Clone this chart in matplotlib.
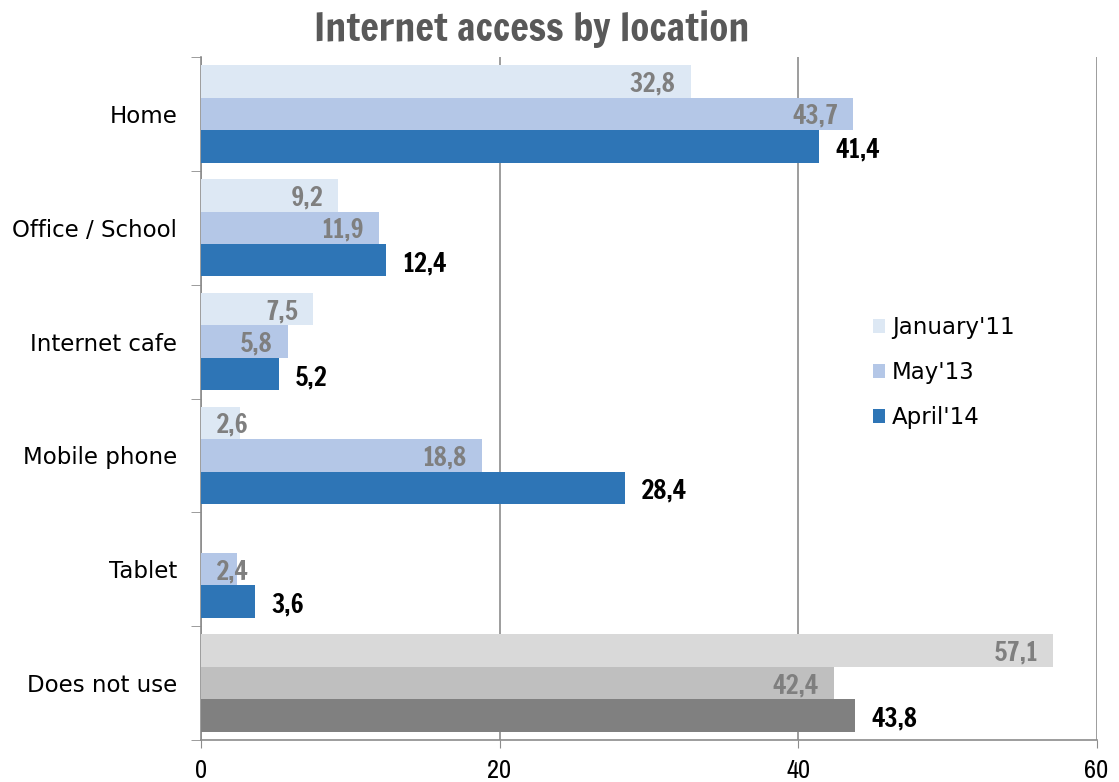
import numpy as np
import matplotlib.pyplot as plt

categories = ["Home", "Office / School", "Internet cafe", "Mobile phone", "Tablet", "Does not use"]
series = ["January'11", "May'13", "April'14"]
jan11 = [32.8, 9.2, 7.5, 2.6, None, 57.1]
may13 = [43.7, 11.9, 5.8, 18.8, 2.4, 42.4]
apr14 = [41.4, 12.4, 5.2, 28.4, 3.6, 43.8]

blue_colors = ["#dde8f4", "#b4c7e7", "#2e75b6"]
gray_colors = ["#d9d9d9", "#bfbfbf", "#808080"]

heavy = ["Francois One", "Fjalla One", "DejaVu Sans"]
narrow = ["Archivo Narrow", "DejaVu Sans"]
body = ["DejaVu Sans"]

fig = plt.figure(figsize=(11.19, 7.82), dpi=100)
ax = fig.add_axes([0.1796, 0.0537, 0.8004, 0.8734])

h = 0.285
y = np.arange(len(categories))
for k, vals in enumerate([jan11, may13, apr14]):
    for i, v in enumerate(vals):
        if v is None:
            continue
        c = gray_colors[k] if categories[i] == "Does not use" else blue_colors[k]
        yy = y[i] + (k - 1) * h
        ax.barh(yy, v, height=h, color=c, zorder=3,
                label=series[k] if i == 0 else None)
        txt = f"{v:.1f}".replace(".", ",")
        if k < 2:
            # short bars: label would run past the axis, so start it just inside
            if v < 4:
                ax.text(1.0, yy + 0.02, txt, ha="left", va="center",
                        fontsize=18.5, color="#7f7f7f", family=heavy, zorder=4)
            else:
                ax.text(v - 1.0, yy + 0.02, txt, ha="right", va="center",
                        fontsize=18.5, color="#7f7f7f", family=heavy, zorder=4)
        else:
            ax.text(v + 1.1, yy + 0.03, txt, ha="left", va="center",
                    fontsize=18.5, color="black", family=heavy, zorder=4)

ax.set_xlim(0, 60)
ax.set_ylim(len(categories) - 0.5, -0.5)
ax.set_xticks([0, 20, 40, 60])
ax.set_xticklabels(["0", "20", "40", "60"], family=narrow, fontsize=19)
ax.tick_params(axis="x", colors="#8c8c8c", labelcolor="black",
               length=6, direction="out", pad=8)
ax.set_yticks(y)
ax.set_yticklabels(categories, fontsize=16.5, family=body)
ax.tick_params(axis="y", length=0, pad=17)
ax.set_yticks(np.arange(-0.5, len(categories), 1), minor=True)
ax.tick_params(axis="y", which="minor", length=7, color="#8c8c8c")
ax.grid(axis="x", color="#8c8c8c", linewidth=1.2, zorder=0)

for s in ["top", "right"]:
    ax.spines[s].set_visible(False)
for s in ["left", "bottom"]:
    ax.spines[s].set_color("#8c8c8c")
    ax.spines[s].set_linewidth(1.2)

ax.legend(loc="center left", bbox_to_anchor=(0.727, 0.538), frameon=False,
          handlelength=0.55, handleheight=0.55, handletextpad=0.3,
          labelspacing=0.95, prop={"family": body, "size": 16.5})

fig.text(0.475, 0.963, "Internet access by location", ha="center", va="center",
         fontsize=28, color="#595959", family=heavy)

fig.savefig("out.png", dpi=100)
